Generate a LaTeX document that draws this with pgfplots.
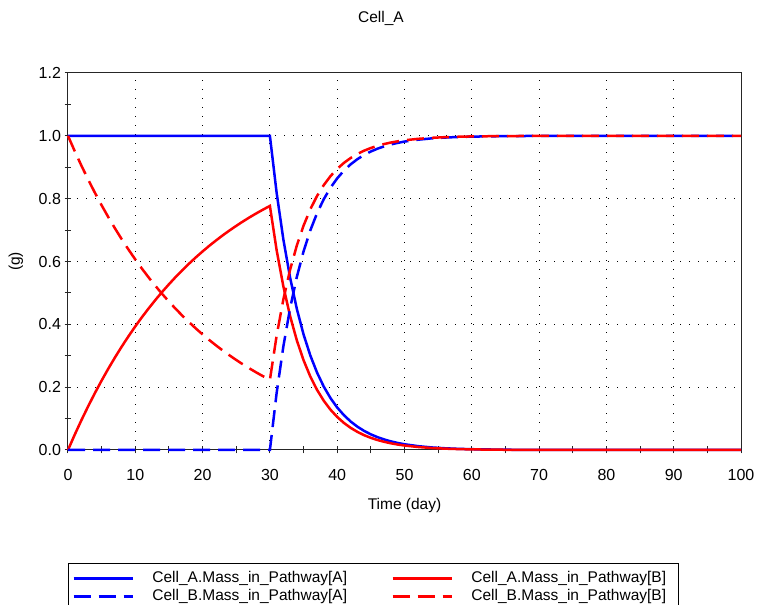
\documentclass[border=0pt]{standalone}
\usepackage{pgfplots}
\pgfplotsset{compat=1.18}
\usepackage{pgfplotstable}
\usepackage{fontspec}
\setmainfont{Liberation Sans}

\pgfplotstableread{
t bA bB rA rB
0 1 0 0 1
1 1 0 0.0488 0.9512
2 1 0 0.0952 0.9048
3 1 0 0.1393 0.8607
4 1 0 0.1813 0.8187
5 1 0 0.2212 0.7788
6 1 0 0.2592 0.7408
7 1 0 0.2953 0.7047
8 1 0 0.3297 0.6703
9 1 0 0.3624 0.6376
10 1 0 0.3935 0.6065
11 1 0 0.4231 0.5769
12 1 0 0.4512 0.5488
13 1 0 0.4780 0.5220
14 1 0 0.5034 0.4966
15 1 0 0.5276 0.4724
16 1 0 0.5507 0.4493
17 1 0 0.5726 0.4274
18 1 0 0.5934 0.4066
19 1 0 0.6133 0.3867
20 1 0 0.6321 0.3679
21 1 0 0.6501 0.3499
22 1 0 0.6671 0.3329
23 1 0 0.6834 0.3166
24 1 0 0.6988 0.3012
25 1 0 0.7135 0.2865
26 1 0 0.7275 0.2725
27 1 0 0.7408 0.2592
28 1 0 0.7534 0.2466
29 1 0 0.7654 0.2346
30 1 0 0.7769 0.2231
31 0.8187 0.1813 0.6361 0.3639
32 0.6703 0.3297 0.5208 0.4792
33 0.5488 0.4512 0.4264 0.5736
34 0.4493 0.5507 0.3491 0.6509
35 0.3679 0.6321 0.2859 0.7141
36 0.3012 0.6988 0.2340 0.7660
37 0.2466 0.7534 0.1916 0.8084
38 0.2019 0.7981 0.1569 0.8431
39 0.1653 0.8347 0.1284 0.8716
40 0.1353 0.8647 0.1051 0.8949
41 0.1108 0.8892 0.0861 0.9139
42 0.0907 0.9093 0.0705 0.9295
43 0.0743 0.9257 0.0577 0.9423
44 0.0608 0.9392 0.0472 0.9528
45 0.0498 0.9502 0.0387 0.9613
46 0.0408 0.9592 0.0317 0.9683
47 0.0334 0.9666 0.0260 0.9740
48 0.0273 0.9727 0.0212 0.9788
49 0.0224 0.9776 0.0174 0.9826
50 0.0183 0.9817 0.0142 0.9858
52 0.0123 0.9877 0.0096 0.9904
54 0.0082 0.9918 0.0064 0.9936
56 0.0055 0.9945 0.0043 0.9957
58 0.0037 0.9963 0.0029 0.9971
60 0.0025 0.9975 0.0019 0.9981
65 0.0009 0.9991 0.0007 0.9993
70 0.0003 0.9997 0.0003 0.9997
80 0 1 0 1
90 0 1 0 1
100 0 1 0 1
}\data

\begin{document}
\begin{tikzpicture}[x=1pt,y=1pt]
\path[use as bounding box] (0,0) rectangle (758,605);
\begin{axis}[
  at={(68pt,155pt)}, anchor=south west,
  scale only axis, width=673pt, height=377pt,
  xmin=0, xmax=100, ymin=0, ymax=1.2,
  xtick={0,10,20,30,40,50,60,70,80,90,100},
  ytick={0,0.2,0.4,0.6,0.8,1.0,1.2},
  minor x tick num=1, minor y tick num=1,
  tick align=center, major tick length=7pt, minor tick length=7pt,
  xtick pos=left, ytick pos=left,
  grid=major,
  major grid style={black, line width=1pt, dash pattern=on 1pt off 8pt},
  axis line style={black!85, line width=1pt},
  tick style={black!85, line width=1pt},
  tick label style={font=\fontsize{16}{19}\selectfont},
  xticklabel style={yshift=-12pt},
  /pgf/number format/assume math mode=true,
  yticklabel style={/pgf/number format/.cd, fixed, fixed zerofill, precision=1},
  xlabel={Time (day)}, ylabel={(g)},
  every axis x label/.style={at={(axis description cs:0.5,0)}, anchor=center, yshift=-55pt, font=\fontsize{15.5}{18}\selectfont},
  every axis y label/.style={at={(axis description cs:-0.0773,0.5)}, anchor=center, rotate=90, font=\fontsize{15.5}{18}\selectfont},
  clip=false,
  legend columns=2,
  legend style={at={(axis description cs:0,0)}, anchor=north west, yshift=-113pt,
    draw=black, line width=0.8pt, inner xsep=4pt, inner ysep=8pt,
    font=\fontsize{15.5}{18}\selectfont,
    nodes={inner sep=0pt, text height=11pt, text depth=3pt, anchor=west},
    row sep=4pt, /tikz/column 2/.style={column sep=38pt}},
  legend image code/.code={\draw[#1] (0pt,0pt) -- (59.5pt,0pt); \path (77.5pt,0pt);},
]
\addplot[blue, line width=2.5pt] table[x=t, y=bA] {\data};
\addlegendentry{\makebox[201pt][l]{Cell\_A.Mass\_in\_Pathway[A]}}
\addplot[red, line width=2.5pt] table[x=t, y=rA] {\data};
\addlegendentry{\makebox[203pt][l]{Cell\_A.Mass\_in\_Pathway[B]}}
\addplot[blue, line width=2.5pt, dash pattern=on 17pt off 8pt] table[x=t, y=bB] {\data};
\addlegendentry{\makebox[201pt][l]{Cell\_B.Mass\_in\_Pathway[A]}}
\addplot[red, line width=2.5pt, dash pattern=on 17pt off 8pt] table[x=t, y=rB] {\data};
\addlegendentry{\makebox[203pt][l]{Cell\_B.Mass\_in\_Pathway[B]}}
\end{axis}
\node[font=\fontsize{15.5}{18}\selectfont] at (381,587) {Cell\_A};
\end{tikzpicture}
\end{document}
